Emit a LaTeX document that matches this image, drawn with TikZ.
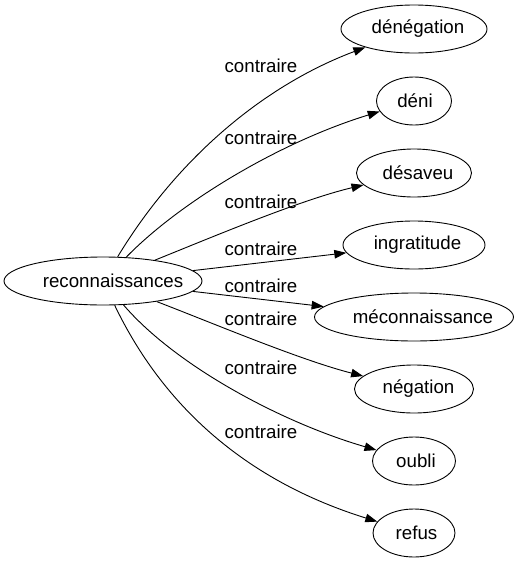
\documentclass[tikz,border=0pt]{standalone}
\usepackage{fontspec}
\setmainfont{Liberation Sans}
\usetikzlibrary{shapes.geometric,arrows.meta}
\newcommand{\fs}{\fontsize{18.7pt}{22pt}\selectfont}
\newcommand{\sh}[2]{\makebox[0pt]{\hspace*{#1pt}#2}}
\tikzset{
  ent/.style={draw, ellipse, line width=0.9pt, minimum height=48pt, inner sep=0pt, font=\fs},
  rel/.style={-{Triangle[length=12pt,width=8.5pt]}, line width=0.9pt},
  lab/.style={font=\fs, inner sep=0pt}
}
\begin{document}
\begin{tikzpicture}[x=1pt,y=-1pt]
\useasboundingbox (0,0) rectangle (519,563);
% nodes
\node[ent, minimum width=198pt] (c) at (103,281) {\sh{20}{reconnaissances}};
\node[ent, minimum width=146pt] (t1) at (414,29) {\sh{8}{dénégation}};
\node[ent, minimum width=75pt]  (t2) at (414,101) {\sh{2}{déni}};
\node[ent, minimum width=115pt] (t3) at (414,173) {\sh{8}{désaveu}};
\node[ent, minimum width=142pt] (t4) at (414,245) {\sh{7}{ingratitude}};
\node[ent, minimum width=199pt] (t5) at (414,317) {\sh{18}{méconnaissance}};
\node[ent, minimum width=119pt] (t6) at (414,389) {\sh{9}{négation}};
\node[ent, minimum width=83pt]  (t7) at (414,461) {\sh{4}{oubli}};
\node[ent, minimum width=82pt]  (t8) at (414,533) {\sh{5}{refus}};
% labels
\node[lab] (l1) at (261,66) {contraire};
\node[lab] (l2) at (261,138) {contraire};
\node[lab] (l3) at (261,202) {contraire};
\node[lab] (l4) at (261,249) {contraire};
\node[lab] (l5) at (261,286) {contraire};
\node[lab] (l6) at (261,319) {contraire};
\node[lab] (l7) at (261,368) {contraire};
\node[lab] (l8) at (261,432) {contraire};
% edges
\draw[rel] (c) .. controls (175,162) and (260,87) .. (t1);
\draw[rel] (c) .. controls (180,202) and (280,142) .. (t2);
\draw[rel] (c) .. controls (210,238) and (300,200) .. (t3);
\draw[rel] (c) -- (t4);
\draw[rel] (c) -- (t5);
\draw[rel] (c) .. controls (210,322) and (300,360) .. (t6);
\draw[rel] (c) .. controls (175,365) and (280,422) .. (t7);
\draw[rel] (c) .. controls (165,410) and (250,482) .. (t8);
\end{tikzpicture}
\end{document}
